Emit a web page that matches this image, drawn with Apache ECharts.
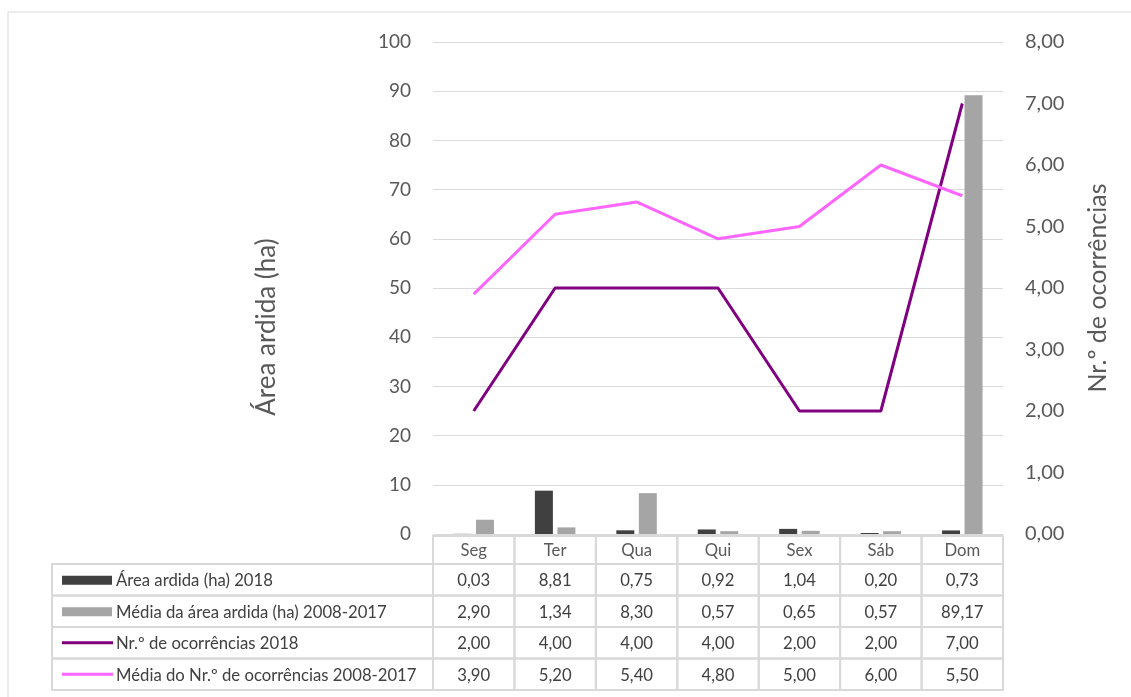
<!DOCTYPE html>
<html lang="pt">
<head>
    <meta charset="UTF-8">
    <title>Área ardida e ocorrências por dia da semana</title>
    <script type="text/javascript" src="https://cdn.jsdelivr.net/npm/echarts@6/dist/echarts.min.js"></script>
    <style>
        html, body { margin: 0; padding: 0; background: #fff; }
        #chart { width: 1131px; height: 697px; }
    </style>
</head>
<body>
<div id="chart"></div>
<script type="text/javascript">
    var dias = ['Seg', 'Ter', 'Qua', 'Qui', 'Sex', 'Sáb', 'Dom'];
    var area2018 = [0.03, 8.81, 0.75, 0.92, 1.04, 0.20, 0.73];
    var areaMedia = [2.90, 1.34, 8.30, 0.57, 0.65, 0.57, 89.17];
    var ocorr2018 = [2.00, 4.00, 4.00, 4.00, 2.00, 2.00, 7.00];
    var ocorrMedia = [3.90, 5.20, 5.40, 4.80, 5.00, 6.00, 5.50];

    var nomes = ['Área ardida (ha) 2018', 'Média da área ardida (ha) 2008-2017',
        'Nr.º de ocorrências 2018', 'Média do Nr.º de ocorrências 2008-2017'];
    var cores = ['#404040', '#a5a5a5', '#800080', '#ff66ff'];

    var fonte = 'Lato, "Open Sans", sans-serif';
    var plotLeft = 433, plotRight = 1003, plotBottom = 534;

    function fmt(v) {
        return v.toFixed(2).replace('.', ',');
    }

    // tabela de dados por baixo do gráfico
    function tabela() {
        var g = [];
        var colW = (plotRight - plotLeft) / dias.length;
        var linhas = [area2018, areaMedia, ocorr2018, ocorrMedia];
        var headTop = 536, headH = 28, rowH = 31.5, legLeft = 52;
        var borda = { stroke: '#d9d9d9', lineWidth: 2, fill: null };
        var fTab = '16.7px ' + fonte;

        // cabeçalho
        dias.forEach(function (d, i) {
            var x = plotLeft + i * colW;
            g.push({ type: 'rect', shape: { x: x, y: headTop, width: colW, height: headH }, style: borda, silent: true });
            g.push({ type: 'text', x: x + colW / 2, y: headTop + headH / 2 + 1,
                style: { text: d, fill: '#595959', font: fTab, align: 'center', verticalAlign: 'middle' } });
        });

        linhas.forEach(function (arr, r) {
            var y = headTop + headH + r * rowH;
            g.push({ type: 'rect', shape: { x: legLeft, y: y, width: plotLeft - legLeft, height: rowH }, style: borda, silent: true });
            if (r < 2) {
                g.push({ type: 'rect', shape: { x: 62, y: y + rowH / 2 - 4, width: 50, height: 9 }, style: { fill: cores[r] } });
            } else {
                g.push({ type: 'line', shape: { x1: 62, y1: y + rowH / 2, x2: 113, y2: y + rowH / 2 }, style: { stroke: cores[r], lineWidth: 3 } });
            }
            g.push({ type: 'text', x: 116, y: y + rowH / 2 + 1,
                style: { text: nomes[r], fill: '#404040', font: fTab, verticalAlign: 'middle' } });
            arr.forEach(function (v, i) {
                var x = plotLeft + i * colW;
                g.push({ type: 'rect', shape: { x: x, y: y, width: colW, height: rowH }, style: borda, silent: true });
                g.push({ type: 'text', x: x + colW / 2, y: y + rowH / 2 + 1,
                    style: { text: fmt(v), fill: '#404040', font: fTab, align: 'center', verticalAlign: 'middle' } });
            });
        });

        // moldura exterior
        g.push({ type: 'rect', shape: { x: 8, y: 12, width: 1140, height: 700 }, style: { stroke: '#d9d9d9', lineWidth: 1, fill: null }, silent: true, z: -1 });
        return g;
    }

    var myChart = echarts.init(document.getElementById('chart'));
    var option = {
        animation: false,
        textStyle: { fontFamily: fonte },
        grid: { left: plotLeft, right: 1131 - plotRight, top: 42, bottom: 697 - plotBottom },
        xAxis: {
            type: 'category',
            data: dias,
            axisLine: { show: false },
            axisTick: { show: false },
            axisLabel: { show: false }
        },
        yAxis: [
            {
                type: 'value',
                min: 0, max: 100, interval: 10,
                name: 'Área ardida (ha)',
                nameLocation: 'middle',
                nameGap: 153,
                nameTextStyle: { color: '#595959', fontSize: 26, fontFamily: fonte, padding: [0, 78, 0, 0] },
                axisLabel: { color: '#595959', fontSize: 19, margin: 22 },
                splitLine: { lineStyle: { color: '#d9d9d9', width: 1 } },
                axisLine: { show: false },
                axisTick: { show: false }
            },
            {
                type: 'value',
                min: 0, max: 8, interval: 1,
                name: 'Nr.º de ocorrências',
                nameLocation: 'middle',
                nameGap: 82,
                nameRotate: 90,
                nameTextStyle: { color: '#595959', fontSize: 25, fontFamily: fonte },
                axisLabel: { color: '#595959', fontSize: 20, margin: 22, formatter: function (v) { return fmt(v); } },
                splitLine: { show: false },
                axisLine: { show: false },
                axisTick: { show: false }
            }
        ],
        series: [
            {
                name: nomes[0], type: 'bar', data: area2018, yAxisIndex: 0,
                barWidth: 18, barGap: '25%', itemStyle: { color: cores[0] }
            },
            {
                name: nomes[1], type: 'bar', data: areaMedia, yAxisIndex: 0,
                barWidth: 18, barGap: '25%', itemStyle: { color: cores[1] }
            },
            {
                name: nomes[2], type: 'line', data: ocorr2018, yAxisIndex: 1,
                symbol: 'none', lineStyle: { color: cores[2], width: 3 }, itemStyle: { color: cores[2] }
            },
            {
                name: nomes[3], type: 'line', data: ocorrMedia, yAxisIndex: 1,
                symbol: 'none', lineStyle: { color: cores[3], width: 3 }, itemStyle: { color: cores[3] }
            }
        ],
        graphic: tabela()
    };
    myChart.setOption(option);
</script>
</body>
</html>
